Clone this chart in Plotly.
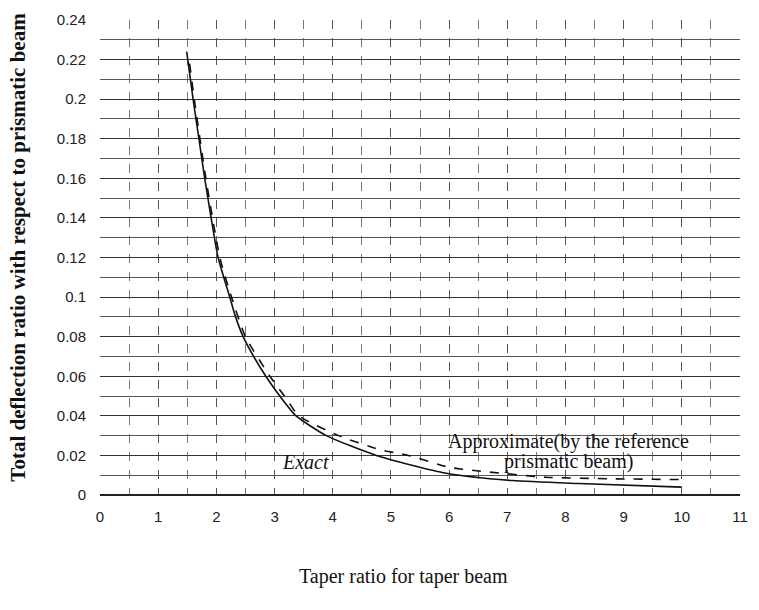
import plotly.graph_objects as go

# Exact curve (solid)
exact_x = [1.49, 1.60, 1.70, 1.80, 1.91, 2.03, 2.23, 2.33, 2.46, 2.64, 2.85, 3.09, 3.37, 3.89, 4.75, 5.95, 7.09, 8.23, 10.0]
exact_y = [0.224, 0.200, 0.180, 0.160, 0.140, 0.120, 0.100, 0.090, 0.080, 0.070, 0.060, 0.050, 0.040, 0.030, 0.020, 0.011, 0.0073, 0.0058, 0.004]

# Approximate curve (dashed)
approx_x = [1.54, 1.62, 1.82, 2.06, 2.26, 2.50, 2.92, 3.17, 3.42, 4.10, 4.80, 5.30, 6.00, 6.23, 7.66, 8.8, 10.0]
approx_y = [0.218, 0.200, 0.160, 0.120, 0.100, 0.080, 0.060, 0.050, 0.040, 0.030, 0.023, 0.020, 0.014, 0.013, 0.009, 0.0082, 0.0078]

x_ticks = list(range(0, 12))
y_tickvals = [0, 0.02, 0.04, 0.06, 0.08, 0.1, 0.12, 0.14, 0.16, 0.18, 0.2, 0.22, 0.24]
y_ticktext = ["0", "0.02", "0.04", "0.06", "0.08", "0.1", "0.12", "0.14", "0.16", "0.18", "0.2", "0.22", "0.24"]

fig = go.Figure()
fig.add_trace(go.Scatter(x=exact_x, y=exact_y, mode="lines",
                         line=dict(color="#111", width=1.6, shape="spline", smoothing=0.6), showlegend=False))
fig.add_trace(go.Scatter(x=approx_x, y=approx_y, mode="lines",
                         line=dict(color="#111", width=1.6, dash="dash", shape="spline", smoothing=0.6), showlegend=False))

serif = "Liberation Serif, Times New Roman, serif"
sans = "Liberation Sans, Arial, sans-serif"

fig.update_layout(
    width=759, height=610,
    margin=dict(l=100, r=11, t=13, b=115),
    paper_bgcolor="white", plot_bgcolor="white",
    font=dict(family=sans, size=15, color="#222"),
    xaxis=dict(
        range=[0, 11], tickvals=x_ticks, ticks="", showline=False, zeroline=False,
        showgrid=True, gridcolor="#555", gridwidth=1, griddash="dash",
        minor=dict(dtick=0.5, showgrid=True, gridcolor="#777", gridwidth=1, griddash="dash"),
        tickfont=dict(family=sans, size=15, color="#222"), ticklabelstandoff=11,
    ),
    yaxis=dict(
        range=[0, 0.24], tickvals=y_tickvals, ticktext=y_ticktext, ticks="", showline=False,
        zeroline=True, zerolinecolor="#222", zerolinewidth=1.5,
        showgrid=True, gridcolor="#333", gridwidth=1,
        minor=dict(dtick=0.01, showgrid=True, gridcolor="#555", gridwidth=1),
        tickfont=dict(family=sans, size=15, color="#222"), ticklabelstandoff=13,
    ),
    annotations=[
        dict(text="<b>Total deflection ratio with respect to prismatic beam</b>", xref="paper", yref="paper",
             x=(17 - 100) / 648, y=(495 - 244) / 482, textangle=-90, showarrow=False,
             font=dict(family=serif, size=21, color="#111"), xanchor="center", yanchor="middle"),
        dict(text="Taper ratio for taper beam", xref="paper", yref="paper",
             x=(407 - 100) / 648, y=(495 - 578) / 482, showarrow=False,
             font=dict(family=serif, size=20, color="#111"), xanchor="center", yanchor="middle"),
        dict(text="<i>Exact</i>", x=3.53, y=0.0166, showarrow=False,
             font=dict(family=serif, size=20, color="#111")),
        dict(text="Approximate(by the reference", x=8.05, y=0.0268, showarrow=False,
             font=dict(family=serif, size=20, color="#111")),
        dict(text="prismatic beam)", x=8.05, y=0.017, showarrow=False,
             font=dict(family=serif, size=20, color="#111")),
    ],
)

fig.write_html("out.html")
